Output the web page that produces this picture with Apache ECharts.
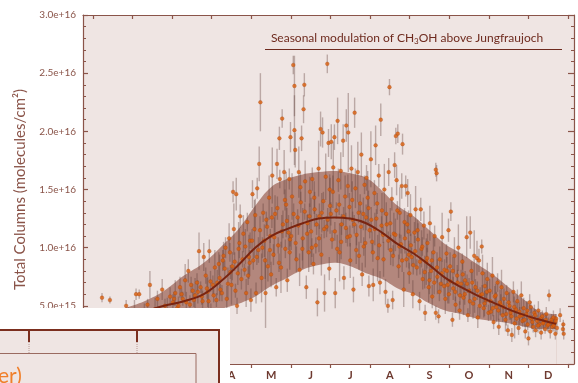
<!DOCTYPE html>
<html>
<head>
<meta charset="utf-8">
<script src="https://cdn.jsdelivr.net/npm/echarts@6/dist/echarts.min.js"></script>
<style>
html,body{margin:0;padding:0;background:#ffffff;}
#chart{width:578px;height:383px;}
</style>
</head>
<body>
<div id="chart"></div>
<script>
// x values are in months since 1 January (0 = Jan 1, 12 = Dec 31); y values in units of 1e15 molecules/cm2
const monthLabels = ['J','F','M','A','M','J','J','A','S','O','N','D'];
const monthBoundaries = [0,1,2,3,4,5,6,7,8,9,10,11,12];
const monthCentres = [0.5,1.5,2.5,3.5,4.5,5.5,6.5,7.5,8.5,9.5,10.5,11.5];
const yTicks = [0,5,10,15,20,25,30];

// fitted seasonal cycle and its 1-sigma envelope
const bandMonths = [0.3,0.8,1.3,1.8,2.3,2.8,3.3,3.7,4.1,4.5,4.9,5.3,5.7,6.1,6.5,6.9,7.3,7.7,8.1,8.5,8.9,9.3,9.7,10.1,10.5,10.9,11.3,11.7];
const meanCurve  = [3.6,4.0,4.5,5.0,5.4,6.0,7.3,8.6,10.0,11.0,11.6,12.1,12.5,12.6,12.5,12.1,11.3,10.3,9.5,8.5,7.4,6.6,5.9,5.3,4.7,4.2,3.8,3.45];
const bandUpper  = [4.2,4.8,5.4,6.3,7.6,8.7,10.3,11.7,13.6,15.2,15.9,16.3,16.5,16.6,16.4,16.0,14.9,13.6,12.7,11.5,10.3,9.5,8.6,7.7,6.6,5.5,4.5,4.3];
const bandLower  = [2.9,3.2,3.5,3.8,4.1,4.4,4.8,5.2,5.8,6.7,7.4,8.1,8.5,8.7,8.4,7.8,7.3,6.5,6.0,5.2,4.6,4.3,3.9,3.7,3.5,3.2,3.0,3.0];

// individual observations: [month position, total column, uncertainty]
const obsJan = [[0.08,3.2,0.4],[0.15,3.9,0.6],[0.23,5.7,0.4],[0.3,2.8,0.5],[0.43,5.5,0.3],[0.5,3.5,0.8],[0.58,4.1,0.5],[0.65,2.9,0.4],[0.72,3.6,0.7],[0.84,5.0,0.5],[0.9,4.3,0.6],[0.95,3.3,0.5]];
const obsFeb = [[1.05,4.6,0.9],[1.09,6.0,0.5],[1.17,6.0,0.4],[1.2,3.7,0.6],[1.3,4.4,0.8],[1.38,5.1,0.5],[1.44,6.8,1.2],[1.5,3.9,0.5],[1.57,4.7,1.0],[1.63,5.6,0.7],[1.7,4.2,0.5],[1.75,6.4,0.9],[1.82,5.0,0.6],[1.88,4.5,1.2],[1.95,5.8,0.8]];
const obsMar = [[2.02,5.3,0.7],[2.08,6.1,1.1],[2.13,4.8,0.5],[2.2,6.6,0.9],[2.27,5.6,0.6],[2.33,7.2,1.4],[2.41,8.0,1.0],[2.45,5.1,0.8],[2.52,6.3,0.6],[2.58,5.9,1.5],[2.63,7.0,0.8],[2.68,9.7,1.6],[2.72,6.6,0.5],[2.77,5.4,0.9],[2.8,9.2,1.2],[2.85,7.6,0.7],[2.9,6.2,1.3],[2.94,9.7,1.0],[2.98,4.6,0.6],[2.97,7.1,0.9],
  [2.05,5.6,0.6],[2.16,5.0,0.8],[2.24,6.0,0.5],[2.36,5.3,0.9],[2.48,6.8,0.7],[2.55,5.5,0.6],[2.65,6.2,1.0],[2.75,5.8,0.7],[2.88,6.5,0.9],[2.92,5.4,0.6]];
const obsApr = [[3.03,6.8,0.8],[3.08,8.3,1.5],[3.12,5.5,0.6],[3.18,8.6,1.0],[3.2,7.4,2.0],[3.26,6.1,0.7],[3.3,9.3,1.2],[3.35,10.0,0.9],[3.38,5.6,1.1],[3.44,10.8,1.3],[3.47,7.9,0.6],[3.5,6.8,1.7],[3.54,14.8,0.9],[3.58,8.8,0.8],[3.62,14.6,1.4],[3.64,5.0,0.7],[3.68,9.9,2.3],[3.72,12.7,1.0],[3.75,7.3,0.9],[3.8,11.2,1.6],[3.83,8.1,0.5],[3.87,6.1,1.2],[3.9,12.2,0.8],[3.94,9.2,1.9],[3.97,10.6,0.7],[3.99,5.5,1.0],[3.56,11.6,2.2],[3.33,8.2,0.7],
  [3.05,5.9,0.6],[3.14,7.0,1.1],[3.22,6.4,0.5],[3.28,8.9,0.9],[3.41,6.9,1.4],[3.46,9.6,0.8],[3.52,8.4,1.2],[3.6,6.3,0.6],[3.66,7.8,1.0],[3.7,10.4,1.3],[3.78,9.0,0.7],[3.85,10.1,1.5],[3.92,7.6,0.8],[3.96,8.7,1.1]];
const obsMay = [[4.03,14.6,1.2],[4.05,8.9,0.8],[4.08,11.6,2.5],[4.12,6.1,0.9],[4.15,15.1,0.9],[4.18,9.8,1.1],[4.2,17.2,1.5],[4.23,22.5,2.5],[4.26,7.4,2.1],[4.3,13.0,0.8],[4.33,10.6,1.4],[4.36,6.1,3.0],[4.38,12.4,0.7],[4.42,8.4,1.3],[4.45,14.3,1.9],[4.48,11.0,0.6],[4.5,7.7,1.1],[4.53,16.2,2.4],[4.56,9.4,0.9],[4.6,12.9,1.6],[4.63,6.6,0.8],[4.65,17.2,1.3],[4.68,10.2,0.7],[4.71,19.4,1.0],[4.72,15.9,0.8],[4.75,8.3,2.2],[4.78,21.1,0.8],[4.8,12.0,1.2],[4.83,16.5,1.9],[4.86,9.9,0.8],[4.88,13.7,2.8],[4.91,7.2,1.0],[4.94,11.3,1.5],[4.96,15.9,0.9],[4.99,19.5,1.3],[4.98,10.7,0.6],
  [4.02,10.6,1.0],[4.1,12.8,1.4],[4.14,9.2,0.7],[4.22,11.5,1.2],[4.28,10.0,0.9],[4.35,8.9,1.6],[4.4,11.8,0.8],[4.47,9.8,1.3],[4.52,12.6,0.9],[4.58,10.9,1.7],[4.66,13.4,1.0],[4.7,8.7,0.8],[4.77,11.4,1.4],[4.85,14.1,0.9],[4.9,12.3,1.1],[4.97,9.6,1.5]];
const obsJun = [[5.03,14.4,2.0],[5.06,25.7,0.8],[5.09,23.9,2.6],[5.09,20.1,3.0],[5.11,18.4,1.5],[5.14,9.0,1.1],[5.17,12.6,0.7],[5.2,16.5,2.2],[5.22,8.1,1.4],[5.25,13.9,0.9],[5.27,19.4,1.1],[5.3,10.8,2.6],[5.32,21.9,1.2],[5.34,24.0,1.0],[5.36,15.7,1.8],[5.39,6.6,1.0],[5.42,12.1,0.8],[5.45,9.6,1.7],[5.48,14.8,1.3],[5.51,11.4,2.9],[5.54,15.9,1.0],[5.57,8.6,0.9],[5.6,13.3,1.5],[5.63,10.2,0.7],[5.67,5.3,1.2],[5.7,16.8,2.4],[5.72,12.7,1.1],[5.75,20.2,1.5],[5.77,9.4,1.8],[5.8,19.9,1.3],[5.82,14.0,0.8],[5.85,6.1,1.6],[5.88,16.1,2.0],[5.9,11.8,0.9],[5.92,25.8,0.8],[5.95,19.0,1.2],[5.97,8.2,1.0],[5.99,13.6,2.4],
  [5.01,11.0,1.2],[5.07,12.9,0.9],[5.12,10.4,1.5],[5.19,11.9,0.8],[5.24,15.2,1.3],[5.29,9.9,1.0],[5.35,13.1,0.7],[5.41,11.2,1.6],[5.47,12.7,1.1],[5.53,10.0,0.8],[5.59,14.3,1.4],[5.65,12.0,0.9],[5.71,10.8,1.2],[5.78,13.0,1.7],[5.84,11.6,0.8],[5.93,12.4,1.0],[5.98,15.0,1.3]];
const obsJul = [[6.02,19.1,1.5],[6.04,10.7,0.8],[6.07,16.9,2.2],[6.1,19.5,1.1],[6.12,6.1,1.3],[6.15,13.2,0.7],[6.18,20.9,2.0],[6.2,15.8,1.0],[6.23,9.6,2.5],[6.26,16.6,1.6],[6.28,12.0,0.9],[6.32,19.2,1.4],[6.34,7.4,1.0],[6.37,14.4,1.8],[6.4,20.5,1.4],[6.43,10.9,0.8],[6.45,19.9,3.4],[6.48,13.5,1.2],[6.5,8.9,1.5],[6.53,16.8,2.0],[6.56,12.4,0.7],[6.58,6.4,1.1],[6.61,21.6,1.3],[6.63,15.1,1.7],[6.66,11.1,0.9],[6.69,16.5,2.6],[6.72,9.3,1.2],[6.75,13.8,0.8],[6.78,18.0,1.9],[6.8,7.7,1.0],[6.83,12.9,1.4],[6.86,15.4,0.8],[6.88,10.4,2.1],[6.91,16.0,1.1],[6.94,14.3,2.3],[6.97,6.7,0.9],[6.99,11.5,0.7],
  [6.01,12.9,1.0],[6.06,14.8,1.4],[6.11,11.4,0.8],[6.17,9.9,1.2],[6.22,13.7,0.9],[6.27,10.5,1.5],[6.33,12.7,0.8],[6.39,11.7,1.3],[6.44,15.3,1.0],[6.49,11.0,0.9],[6.55,14.1,1.6],[6.6,12.0,0.8],[6.65,9.8,1.2],[6.71,13.0,0.9],[6.77,11.8,1.4],[6.84,10.1,0.8],[6.9,12.6,1.1],[6.96,13.4,1.5]];
const obsAug = [[7.02,17.6,2.4],[7.05,10.5,0.9],[7.08,6.8,1.4],[7.11,14.7,1.1],[7.14,18.8,1.7],[7.16,12.5,0.8],[7.19,9.1,2.0],[7.22,16.2,1.0],[7.25,7.0,1.0],[7.27,21.0,1.4],[7.3,13.2,1.5],[7.33,11.1,0.7],[7.36,15.0,2.2],[7.39,6.2,1.1],[7.42,12.0,0.9],[7.45,5.0,0.6],[7.47,16.5,1.2],[7.49,23.8,0.7],[7.52,9.8,1.3],[7.55,14.2,1.0],[7.57,5.5,0.8],[7.6,11.2,1.8],[7.62,17.1,1.1],[7.65,19.6,0.7],[7.67,15.8,1.3],[7.7,19.8,0.8],[7.72,8.4,1.0],[7.75,13.0,2.2],[7.78,10.3,0.8],[7.8,15.3,1.1],[7.82,18.9,0.9],[7.85,6.4,1.5],[7.87,12.2,1.2],[7.9,15.3,0.9],[7.92,9.0,0.7],[7.95,14.7,1.2],[7.97,11.4,1.8],[7.99,7.8,0.9],
  [7.03,12.4,1.1],[7.07,9.6,0.8],[7.12,11.6,1.4],[7.18,13.8,0.9],[7.23,10.2,1.2],[7.29,11.9,0.8],[7.34,9.0,1.5],[7.41,12.9,1.0],[7.46,10.6,0.8],[7.51,12.1,1.3],[7.58,9.3,0.9],[7.64,11.1,1.4],[7.69,13.2,0.8],[7.74,10.1,1.1],[7.81,8.9,1.0],[7.88,10.8,1.3],[7.94,12.0,0.8],[7.98,9.4,1.2]];
const obsSep = [[8.02,12.8,1.8],[8.05,9.2,0.8],[8.08,6.0,1.2],[8.12,11.3,0.9],[8.15,13.3,2.0],[8.18,8.3,0.7],[8.21,10.7,1.4],[8.25,5.4,0.8],[8.28,13.3,1.0],[8.3,9.9,1.6],[8.33,7.3,0.9],[8.36,11.9,1.2],[8.39,4.4,0.7],[8.42,8.8,2.0],[8.45,10.4,0.8],[8.48,6.6,1.3],[8.51,12.1,1.5],[8.54,8.0,0.7],[8.57,5.8,1.0],[8.6,9.6,1.3],[8.63,11.0,0.9],[8.66,16.7,0.6],[8.68,16.4,0.7],[8.66,4.4,0.6],[8.7,7.5,1.5],[8.73,4.1,0.6],[8.76,9.0,1.1],[8.79,6.9,0.7],[8.82,10.9,2.1],[8.88,8.1,0.9],[8.9,5.6,1.3],[8.93,9.5,0.8],[8.96,6.8,1.6],[8.98,11.5,1.0],
  [8.03,10.2,1.0],[8.09,8.5,0.8],[8.14,9.7,1.3],[8.2,11.5,0.9],[8.26,8.8,1.1],[8.32,10.1,0.8],[8.38,7.9,1.4],[8.44,9.1,0.9],[8.5,7.2,1.2],[8.56,8.9,0.8],[8.62,7.0,1.0],[8.69,8.3,1.3],[8.75,6.2,0.8],[8.81,7.8,1.1],[8.87,6.7,0.9],[8.94,8.0,1.2],[8.99,6.0,0.8]];
const obsOct = [[9.02,8.4,1.2],[9.04,13.1,0.8],[9.08,3.8,0.6],[9.1,6.5,1.0],[9.13,9.3,1.6],[9.16,5.1,0.7],[9.2,7.6,0.9],[9.23,10.0,2.0],[9.26,4.6,0.8],[9.3,6.9,1.2],[9.33,8.8,0.7],[9.36,5.7,1.5],[9.4,7.2,0.8],[9.44,10.9,1.8],[9.47,4.2,0.6],[9.5,6.3,1.1],[9.53,11.3,1.4],[9.56,8.0,0.8],[9.6,5.2,1.3],[9.63,9.3,2.2],[9.66,6.6,0.7],[9.7,9.1,1.5],[9.72,4.0,0.9],[9.75,8.9,1.0],[9.78,5.9,0.7],[9.82,10.1,0.6],[9.84,7.8,1.6],[9.87,4.8,0.8],[9.9,6.7,1.2],[9.93,5.5,0.6],[9.96,7.3,1.4],[9.99,4.4,0.7],
  [9.03,7.1,0.9],[9.09,8.0,1.2],[9.15,6.2,0.8],[9.21,7.0,1.1],[9.27,5.9,0.8],[9.34,7.7,1.3],[9.39,6.0,0.9],[9.45,6.9,0.8],[9.52,5.4,1.1],[9.58,7.0,0.9],[9.64,5.6,1.2],[9.71,6.3,0.8],[9.77,5.0,1.0],[9.83,6.0,0.8],[9.89,5.2,1.1],[9.95,6.2,0.9]];
const obsNov = [[10.02,6.3,1.0],[10.05,4.5,0.7],[10.09,7.6,1.6],[10.12,3.6,0.6],[10.15,5.8,0.9],[10.19,4.9,1.3],[10.22,7.0,0.8],[10.25,3.2,0.7],[10.28,5.3,1.1],[10.32,6.6,1.5],[10.35,4.2,0.6],[10.38,5.6,0.9],[10.42,3.8,1.0],[10.45,6.1,0.7],[10.48,2.9,0.5],[10.52,5.0,1.2],[10.55,4.4,0.6],[10.58,2.5,0.6],[10.62,6.2,0.9],[10.65,3.5,1.3],[10.68,4.7,0.7],[10.72,5.4,1.0],[10.75,3.1,0.6],[10.78,4.1,0.8],[10.82,5.9,1.2],[10.85,3.7,0.5],[10.88,4.8,0.9],[10.92,2.8,0.6],[10.95,4.3,1.1],[10.98,3.4,0.5],
  [10.04,5.4,0.9],[10.1,4.8,0.7],[10.17,5.9,1.0],[10.24,4.6,0.8],[10.3,5.1,0.9],[10.37,4.9,0.7],[10.44,4.3,1.0],[10.5,5.3,0.8],[10.57,4.1,0.7],[10.64,4.9,0.9],[10.7,3.9,0.6],[10.77,4.5,0.8],[10.84,4.2,0.7],[10.9,3.8,0.6],[10.97,4.6,0.8]];
const obsDec = [[11.0,2.2,0.6],[11.03,5.3,0.7],[11.06,4.9,0.5],[11.08,3.9,0.9],[11.12,3.2,0.5],[11.15,4.4,0.7],[11.18,2.9,0.6],[11.22,3.7,0.5],[11.25,4.6,0.8],[11.28,3.4,0.5],[11.32,2.7,0.6],[11.35,4.1,0.5],[11.38,3.6,0.7],[11.42,3.0,0.4],[11.45,4.3,0.6],[11.48,3.3,0.5],[11.52,5.9,0.5],[11.55,2.8,0.6],[11.58,3.8,0.5],[11.6,3.2,0.4],[11.63,4.0,0.6],[11.66,3.5,0.5],[11.68,2.6,0.5],[11.7,3.9,0.4],[11.72,3.1,0.5],[11.8,4.2,0.6],[11.87,3.0,0.5],[11.88,3.4,0.4],[11.89,2.6,0.5],
  [11.04,4.0,0.5],[11.1,3.6,0.6],[11.17,4.2,0.5],[11.24,3.3,0.6],[11.3,3.9,0.5],[11.37,3.5,0.4],[11.44,3.8,0.5],[11.5,3.4,0.6],[11.57,3.6,0.4],[11.64,3.3,0.5],[11.69,3.7,0.4]];

const observations = [].concat(obsJan,obsFeb,obsMar,obsApr,obsMay,obsJun,obsJul,obsAug,obsSep,obsOct,obsNov,obsDec);

const AXIS = '#8a5449';
const LABEL = '#8a5449';
const DARK = '#6e2a1e';
const PLOTBG = '#efe5e3';
const FONT = 'Lato, "Open Sans", sans-serif';

const chart = echarts.init(document.getElementById('chart'), null, {renderer:'canvas'});

const xCommon = {type:'value', min:-0.25, max:12.15, splitLine:{show:false}};
const yCommon = {type:'value', min:0, max:30, interval:5, splitLine:{show:false}, minorSplitLine:{show:false}};

chart.setOption({
  backgroundColor:'#ffffff',
  animation:false,
  grid:{left:83, right:4, top:15, bottom:19, show:true, backgroundColor:PLOTBG, borderWidth:0},
  xAxis:[
    Object.assign({}, xCommon, {
      position:'bottom',
      axisLine:{show:true, onZero:false, lineStyle:{color:AXIS, width:1.2}},
      axisTick:{show:true, inside:false, length:4, customValues:monthBoundaries, lineStyle:{color:AXIS, width:1.2}},
      axisLabel:{show:true, customValues:monthCentres, margin:6, color:'#6e3a30', fontFamily:FONT, fontSize:11, fontWeight:'bold',
        formatter:function(v){ return monthLabels[Math.floor(v)]; }}
    }),
    Object.assign({}, xCommon, {
      position:'top',
      axisLine:{show:true, onZero:false, lineStyle:{color:AXIS, width:1.2}},
      axisTick:{show:true, inside:true, length:4, customValues:monthBoundaries, lineStyle:{color:AXIS, width:1.2}},
      axisLabel:{show:false}
    })
  ],
  yAxis:[
    Object.assign({}, yCommon, {
      position:'left',
      name:'Total Columns (molecules/cm²)',
      nameLocation:'middle', nameGap:55, nameRotate:90,
      nameTextStyle:{color:'#8a5449', fontFamily:FONT, fontSize:15},
      axisLine:{show:true, onZero:false, lineStyle:{color:AXIS, width:1.2}},
      axisTick:{show:true, inside:true, length:5, lineStyle:{color:AXIS, width:1.2}},
      minorTick:{show:true, splitNumber:5, length:3, lineStyle:{color:AXIS, width:1}},
      axisLabel:{show:true, margin:7, color:LABEL, fontFamily:FONT, fontSize:10,
        customValues:yTicks,
        formatter:function(v){ return (v*1e15).toExponential(1); }}
    }),
    Object.assign({}, yCommon, {
      position:'right',
      axisLine:{show:true, onZero:false, lineStyle:{color:AXIS, width:1.2}},
      axisTick:{show:true, inside:true, length:6, lineStyle:{color:AXIS, width:1.2}},
      minorTick:{show:true, splitNumber:5, length:3, lineStyle:{color:AXIS, width:1}},
      axisLabel:{show:false}
    })
  ],
  series:[
    {
      name:'band upper', type:'line', smooth:0.4, symbol:'none', z:1,
      data:bandMonths.map(function(m,i){return [m, bandUpper[i]];}),
      lineStyle:{width:0, opacity:0},
      areaStyle:{color:'#b3877d', opacity:1}
    },
    {
      name:'band lower', type:'line', smooth:0.4, symbol:'none', z:1,
      data:bandMonths.map(function(m,i){return [m, bandLower[i]];}),
      lineStyle:{width:0, opacity:0},
      areaStyle:{color:PLOTBG, opacity:1}
    },
    {
      name:'uncertainty', type:'custom', z:2,
      data:observations,
      encode:{x:0, y:1},
      renderItem:function(params, api){
        const x = api.value(0), y = api.value(1), e = api.value(2);
        const p1 = api.coord([x, y - e]);
        const p2 = api.coord([x, y + e]);
        return {type:'line', shape:{x1:p1[0], y1:p1[1], x2:p2[0], y2:p2[1]},
          style:{stroke:'rgba(95,60,55,0.36)', lineWidth:1.4}};
      }
    },
    {
      name:'observations', type:'scatter', z:3,
      data:observations.map(function(o){return [o[0], o[1]];}),
      symbol:'circle', symbolSize:3.7,
      itemStyle:{color:'#dc600c', borderColor:'#a8420c', borderWidth:0.4}
    },
    {
      name:'seasonal fit', type:'line', smooth:0.4, symbol:'none', z:4,
      data:bandMonths.map(function(m,i){return [m, meanCurve[i]];}),
      lineStyle:{color:'#7a2410', width:2}
    }
  ],
  graphic:[
    {type:'text', z:50, x:407, y:38, style:{
      text:'Seasonal modulation of CH{sub|3}OH above Jungfraujoch',
      align:'center', verticalAlign:'middle', fill:DARK, fontFamily:FONT, fontSize:12,
      rich:{sub:{fontSize:8, verticalAlign:'bottom', padding:[6,0,0,0], fill:DARK, fontFamily:FONT}}
    }},
    {type:'line', z:50, shape:{x1:265, y1:49.5, x2:562, y2:49.5}, style:{stroke:DARK, lineWidth:1}},
    // overlapping slide element at bottom left
    {type:'rect', z:100, shape:{x:0, y:308, width:230, height:80}, style:{fill:'#ffffff'}},
    {type:'rect', z:101, shape:{x:-5, y:330, width:224, height:60}, style:{fill:PLOTBG, stroke:'#7b2e1e', lineWidth:2}},
    {type:'line', z:102, shape:{x1:29, y1:330, x2:29, y2:342}, style:{stroke:'#7b2e1e', lineWidth:2}},
    {type:'line', z:102, shape:{x1:137, y1:330, x2:137, y2:342}, style:{stroke:'#7b2e1e', lineWidth:2}},
    {type:'line', z:102, shape:{x1:29, y1:342, x2:29, y2:353}, style:{stroke:'#b89a94', lineWidth:1, lineDash:[1,1]}},
    {type:'line', z:102, shape:{x1:137, y1:342, x2:137, y2:353}, style:{stroke:'#b89a94', lineWidth:1, lineDash:[1,1]}},
    {type:'rect', z:103, shape:{x:-5, y:353.5, width:201, height:40}, style:{fill:PLOTBG, stroke:'#9a6a60', lineWidth:1}},
    {type:'text', z:104, style:{x:-2, y:387, text:'er)', fill:'#f07f2a', fontFamily:FONT, fontSize:21, verticalAlign:'bottom'}}
  ]
});
</script>
</body>
</html>
